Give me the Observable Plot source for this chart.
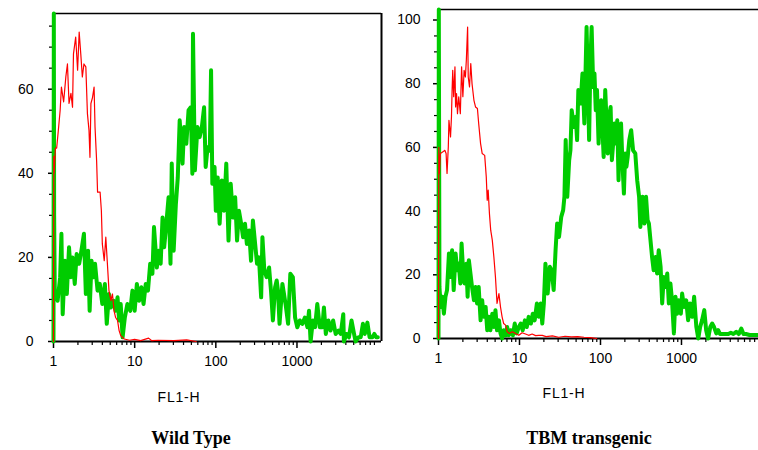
<!DOCTYPE html>
<html><head><meta charset="utf-8">
<script src="https://cdn.jsdelivr.net/npm/d3@7"></script>
<script src="https://cdn.jsdelivr.net/npm/@observablehq/plot@0.6"></script>
<style>
body{margin:0;background:#fff;}
#wrap{position:relative;width:758px;height:450px;overflow:hidden;background:#fff;}
.panel{position:absolute;top:0;}
.xlab{position:absolute;font:14px "Liberation Sans",Arial,sans-serif;letter-spacing:0.8px;transform:translateX(-50%);white-space:nowrap;color:#000;line-height:14px;}
.title{position:absolute;font:bold 18px "Liberation Serif","Times New Roman",serif;transform:translateX(-50%);white-space:nowrap;color:#000;line-height:18px;}
</style></head><body>
<div id="wrap">
  <div class="panel" id="left" style="left:0px"></div>
  <div class="panel" id="right" style="left:385px"></div>
  <div class="xlab" style="left:179px;top:390px">FL1-H</div>
  <div class="xlab" style="left:564px;top:386px">FL1-H</div>
  <div class="title" style="left:191px;top:429px">Wild Type</div>
  <div class="title" style="left:589px;top:429px">TBM transgenic</div>
</div>
<script>
// Histogram data: [FL1 channel (0-1023, 4-decade log), count]
const wildTypeControl = [[0,0],[1,44],[2,40],[6,46],[10,46],[15,50],[21,55],[25,60.5],[32,57],[39,63],[44,66],[49,56.6],[55,59],[60,55.7],[63,68.4],[70,72.4],[76,64.5],[81,73.6],[86,68.4],[91,62.9],[96,66],[102,65.3],[107,54.2],[112,50.2],[115,43.8],[118,56.6],[123,58],[128,60.5],[131,51],[136,43],[139,35.5],[147,35.5],[151,31.1],[154,23.2],[160,19.2],[165,24.8],[170,18.5],[175,12.1],[181,9.7],[186,11.3],[191,7.3],[196,5.7],[202,5],[207,2.6],[212,1.4],[223,0.6],[240,0.3],[256,0.5],[275,0.2],[300,0.8],[310,0.2],[330,0.3],[380,0.2],[420,0.4],[450,0]];

const wildTypeStained = [[0,0],[1,78],[2,30],[4,12.1],[13,9.7],[21,15.3],[25,25.6],[29,6.5],[36,19.2],[42,11.3],[49,22.4],[55,15.3],[60,20],[67,13.7],[73,20.8],[81,18.5],[88,21.6],[96,25.6],[102,11.3],[109,21.6],[114,7.3],[120,19.2],[126,15.3],[131,18.5],[139,12.1],[146,13.7],[154,8.9],[162,13.7],[168,4.2],[175,11.3],[181,8.1],[189,9.7],[196,7.3],[202,10.5],[207,5],[212,8.9],[218,1],[225,5.7],[233,8.9],[242,7.3],[249,12.1],[256,7.3],[263,13.7],[270,9.7],[277,12.9],[284,8.9],[291,13.7],[298,12.1],[305,18.5],[312,16.1],[317,27.2],[326,17.6],[331,21.6],[338,18.5],[344,29.5],[349,22.4],[354,26.4],[363,34.3],[369,18.5],[373,42.3],[379,21.6],[386,32.7],[392,39],[398,52.6],[407,42.3],[412,51],[419,47],[426,55],[433,55.7],[438,39.9],[440,73.2],[446,40.7],[454,51],[461,48.6],[468,51],[475,55.7],[480,41.5],[486,46.2],[493,45.4],[497,64.5],[501,37.5],[508,41.5],[512,31.1],[518,39],[524,28],[531,38.3],[538,31.1],[545,42.3],[552,24],[559,37.5],[566,29.5],[573,34.3],[579,24],[585,31.1],[592,28],[598,24.8],[604,28],[610,23.2],[617,26.4],[623,19.2],[629,28.8],[636,23.2],[642,18.5],[648,20],[655,10.5],[659,24.8],[665,16.9],[672,15.3],[680,17.6],[686,12.1],[692,5],[699,12.9],[704,14.5],[708,12.1],[713,4.2],[722,13.7],[732,8.9],[740,4.2],[747,16.1],[755,15.3],[762,5.7],[769,3.4],[777,5],[785,4.2],[793,5.7],[801,3.4],[806,7.3],[811,0],[818,5],[825,3.4],[832,8.9],[840,3.4],[848,3.4],[853,8.1],[859,1.8],[867,5],[874,2.6],[882,5],[890,1.8],[899,2.6],[906,1.8],[914,6.5],[916,0],[924,1.8],[932,1],[940,5],[948,1.8],[953,0],[962,1],[969,1],[976,4.2],[982,1.8],[990,4.5],[997,1],[1006,1],[1012,1.8],[1018,1],[1023,1]];

const tbmControl = [[0,0],[1,60],[3,51.8],[6,58.1],[14,58.6],[20,59.1],[24,58.1],[27,51.8],[31,60.2],[33,68.5],[38,63.3],[41,69.6],[43,78],[45,84.2],[48,75.9],[52,85.3],[54,72.7],[57,76.9],[60,70.6],[64,75.9],[69,70.6],[73,85.3],[77,75.9],[81,84.2],[85,82.1],[88,87.4],[92,97.8],[94,82.1],[98,79],[102,86.3],[106,80],[112,74.8],[117,72.7],[123,72.2],[127,67.5],[133,61.2],[138,58.1],[146,57.5],[151,50.7],[154,43.4],[157,46.6],[161,39.2],[165,34],[170,30.9],[175,25.6],[180,19.3],[185,11],[191,14.1],[196,9.9],[201,6.8],[206,4.7],[212,4.2],[217,2.1],[224,1.6],[233,2.1],[243,1.6],[254,1],[264,1.8],[275,1.4],[285,1],[296,1.4],[307,0.9],[317,1],[328,1],[340,0.6],[360,0.8],[380,0.4],[400,0.7],[420,0.5],[440,0.6],[460,0.4],[480,0.3],[500,0]];

const tbmStained = [[0,0],[1,103.3],[3,16.2],[7,9.9],[12,13.1],[17,7.8],[22,13.1],[27,15.2],[33,26.7],[38,19.3],[43,27.7],[48,15.2],[54,26.7],[59,21.4],[64,23.5],[69,17.3],[73,29.8],[77,22.5],[82,17.3],[88,23.5],[92,13.1],[96,24.6],[101,20.4],[106,16.2],[112,12],[117,16.2],[122,11],[127,16.2],[133,5.7],[138,12],[143,6.8],[149,9.9],[154,2.6],[159,6.8],[164,2.6],[170,7.8],[175,3.6],[180,8.9],[185,2.6],[191,5.7],[196,1.6],[201,0],[206,2.6],[212,1],[217,3.6],[222,1],[228,2.6],[235,1],[241,4.7],[247,1.6],[254,3.6],[260,4.7],[266,2.6],[273,5.7],[279,3.6],[285,6.8],[292,4.7],[298,7.8],[304,5.7],[311,11],[317,6.8],[323,11],[328,4.7],[333,11],[338,23.5],[345,14.1],[352,22.5],[358,21.4],[364,15.2],[370,27.7],[375,36.1],[381,31.9],[388,38.2],[394,40.3],[398,44.5],[402,62.3],[407,44.5],[413,56],[417,59.1],[421,71.7],[428,66.4],[434,69.6],[438,62.3],[442,78],[449,73.8],[455,83.2],[461,67.5],[468,97.8],[472,81.1],[476,62.3],[480,86.3],[484,97.8],[489,79],[493,83.2],[497,71.7],[501,78],[506,61.2],[510,72.7],[514,74.8],[518,66.4],[522,57],[527,78],[531,68.5],[535,58.1],[539,69.6],[544,72.7],[548,56],[552,61.2],[556,67.5],[560,61.2],[565,68.5],[569,49.7],[573,65.4],[577,67.5],[581,56],[586,45.5],[590,58.1],[594,53.9],[598,57],[603,62.3],[609,65.4],[615,59.1],[622,58.1],[628,49.7],[634,44.5],[638,35],[645,44.5],[651,36.1],[656,44.5],[661,37.1],[665,36.1],[670,30.9],[675,25.6],[680,21.4],[686,25.6],[691,20.4],[696,27.7],[702,22.5],[707,11],[712,19.3],[717,16.2],[723,20.4],[728,11],[733,17.3],[738,12],[744,1.6],[749,13.1],[754,7.8],[759,12],[766,7.8],[770,14.1],[776,9.9],[783,12],[789,5.7],[795,11],[802,6.8],[808,13.1],[815,3.6],[821,0],[827,3.6],[833,5.7],[840,8.9],[846,2.6],[852,0],[859,3.6],[865,4.7],[871,3.6],[878,1.6],[884,2.6],[890,1.4],[899,1.4],[907,1.4],[916,1.4],[924,1.8],[932,1.4],[941,2.1],[949,1.4],[957,3.1],[964,1.4],[972,1.4],[983,1.1],[993,1.1],[1004,1.1],[1023,1.1]];

// Axis ticks
const xMajorTicks = [1, 10, 100, 1000];
const xMinorMultipliers = [2, 3, 4, 5, 6, 7, 8, 9];
const wtYMajor = [0, 20, 40, 60];
const wtYMinor = [5, 10, 15, 25, 30, 35, 45, 50, 55, 65, 70, 75];
const tbmYMajor = [0, 20, 40, 60, 80, 100];
const tbmYMinor = [5, 10, 15, 25, 30, 35, 45, 50, 55, 65, 70, 75, 85, 90, 95];

const CHANNELS_PER_DECADE = 256;
const toRows = (pairs) => pairs.map(([ch, count]) => ({fl1: 10 ** (ch / CHANNELS_PER_DECADE), count}));

function drawPanel(o) {
  const xMinor = xMajorTicks.flatMap(d => xMinorMultipliers.map(m => d * m)).filter(v => v <= o.xMax);
  const marks = [
    Plot.ruleY([o.yMax], {strokeWidth: 1.5, stroke: "black"}),
  ];
  if (o.rightBorder) marks.push(Plot.ruleX([o.xMax], {strokeWidth: 2, stroke: "black"}));
  marks.push(
    Plot.axisY(o.yMinor, {tickSize: 4, tickFormat: () => "", strokeWidth: 1.2, label: null}),
    Plot.axisY(o.yMajor, {tickSize: 5, tickPadding: o.yPad, tickFormat: d => String(d), strokeWidth: 1.5, label: null, fontSize: 14}),
    Plot.axisX(xMinor, {tickSize: 4, tickFormat: () => "", strokeWidth: 1.2, label: null}),
    Plot.axisX(xMajorTicks, {tickSize: 7, tickPadding: 8, tickFormat: d => String(d), strokeWidth: 1.5, label: null, fontSize: 14}),
    Plot.ruleY([0], {strokeWidth: 2, stroke: "black"}),
    Plot.ruleX([1], {strokeWidth: 2, stroke: "black"}),
    Plot.line(toRows(o.green), {x: "fl1", y: "count", stroke: "#00cc00", strokeWidth: 4}),
    Plot.line(toRows(o.red), {x: "fl1", y: "count", stroke: "#ff0000", strokeWidth: 1.2})
  );
  return Plot.plot({
    width: o.width, height: 380,
    marginLeft: o.marginLeft, marginRight: o.marginRight, marginTop: o.marginTop, marginBottom: o.marginBottom,
    style: {background: "white", color: "black", fontFamily: "'Liberation Sans', Arial, sans-serif", fontSize: "14px", overflow: "hidden"},
    x: {type: "log", domain: [1, o.xMax]},
    y: {domain: [0, o.yMax]},
    marks
  });
}

document.getElementById("left").appendChild(drawPanel({
  width: 385, marginLeft: 53, marginRight: 4, marginTop: 13, marginBottom: 39,
  xMax: 11000, yMax: 78, yMajor: wtYMajor, yMinor: wtYMinor, yPad: 15, rightBorder: true,
  green: wildTypeStained, red: wildTypeControl
}));
document.getElementById("right").appendChild(drawPanel({
  width: 373, marginLeft: 53, marginRight: 0, marginTop: 9, marginBottom: 42,
  xMax: 8930, yMax: 103.3, yMajor: tbmYMajor, yMinor: tbmYMinor, yPad: 13, rightBorder: false,
  green: tbmStained, red: tbmControl
}));
</script>
</body></html>
